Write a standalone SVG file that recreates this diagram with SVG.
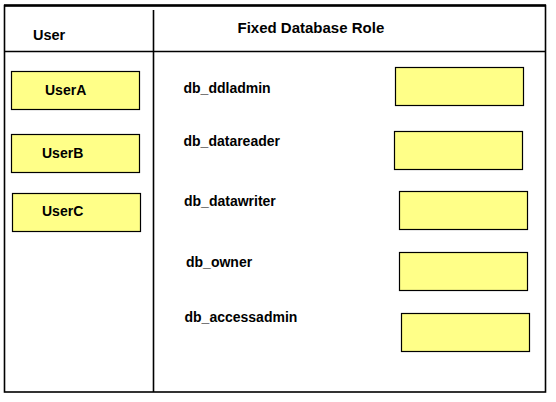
<svg xmlns="http://www.w3.org/2000/svg" width="556" height="402" viewBox="0 0 556 402">
<style>
.box{fill:#ffff88;stroke:#000;stroke-width:1.2}
.t{font-family:"Liberation Sans",Arial,sans-serif;font-weight:bold;font-size:14px;fill:#000}
.frame{fill:none;stroke:#000}
</style>
<rect width="556" height="402" fill="#fff"/>
<g id="table">
<rect class="frame" x="4.5" y="5.5" width="541" height="386.5" stroke-width="1.6"/>
<line x1="4" y1="5.5" x2="546" y2="5.5" stroke="#000" stroke-width="2.4"/>
<line class="frame" x1="4" y1="51.5" x2="546" y2="51.5" stroke-width="1.3"/>
<line class="frame" x1="153.5" y1="10" x2="153.5" y2="392" stroke-width="1.6"/>
<text class="t" x="33" y="39.5" style="font-size:14.5px">User</text>
<text class="t" x="237.5" y="33" style="font-size:15px">Fixed Database Role</text>
</g>
<g id="userA"><rect class="box" x="11.5" y="71.5" width="128" height="38"/><text class="t" x="45" y="94.5">UserA</text></g>
<g id="userB"><rect class="box" x="11.5" y="134.5" width="128" height="38"/><text class="t" x="42" y="157.5">UserB</text></g>
<g id="userC"><rect class="box" x="12.5" y="193.5" width="128" height="38"/><text class="t" x="42" y="215.5">UserC</text></g>
<g id="role1"><text class="t" x="183.5" y="92.5">db_ddladmin</text><rect class="box" x="395.5" y="67.5" width="128" height="38"/></g>
<g id="role2"><text class="t" x="183.5" y="146">db_datareader</text><rect class="box" x="394.5" y="131.5" width="128" height="38"/></g>
<g id="role3"><text class="t" x="184" y="205.5">db_datawriter</text><rect class="box" x="399.5" y="191.5" width="128" height="38"/></g>
<g id="role4"><text class="t" x="186" y="267">db_owner</text><rect class="box" x="399.5" y="252.5" width="128" height="38"/></g>
<g id="role5"><text class="t" x="184.5" y="322">db_accessadmin</text><rect class="box" x="401.5" y="313.5" width="128" height="38"/></g>
<g id="connectors"></g>
</svg>
